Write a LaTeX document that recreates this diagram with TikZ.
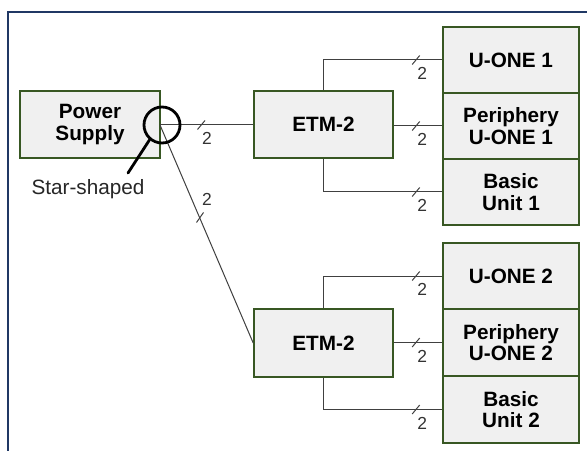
\documentclass[tikz,border=0pt]{standalone}
\usepackage{fontspec}
\setmainfont{Liberation Sans}
\usetikzlibrary{calc}
\definecolor{boxgreen}{RGB}{56,87,35}
\definecolor{boxfill}{RGB}{240,240,240}
\definecolor{framenavy}{RGB}{32,56,100}
\definecolor{wire}{RGB}{64,64,64}
\tikzset{
  unitbox/.style={draw=boxgreen, fill=boxfill, line width=1.6bp, align=center,
    font=\fontsize{20.8}{21.5}\selectfont\bfseries, inner sep=0pt},
  wireline/.style={draw=wire, line width=1bp},
  slashmark/.style={draw=wire, line width=1bp},
  countlabel/.style={font=\fontsize{17.5}{17.5}\selectfont, text=black!80, inner sep=0pt},
  magnifier/.style={draw=black, line width=2.8bp, line cap=round},
}
\begin{document}
\begin{tikzpicture}[x=1bp,y=-1bp]
\useasboundingbox (0,0) rectangle (587,451);
\fill[white] (0,0) rectangle (587,451);
% frame (cropped)
\draw[framenavy, line width=2bp] (8,453) -- (8,12) -- (589,12);

% boxes
\node[unitbox, minimum width=140bp, minimum height=67bp] (ps) at (90,124.5) {Power\\Supply};
\node[unitbox, minimum width=139bp, minimum height=67bp] (etmA) at (323.5,124.5) {ETM-2};
\node[unitbox, minimum width=139bp, minimum height=68bp] (etmB) at (323.5,343) {ETM-2};

\node[unitbox, minimum width=136bp, minimum height=66bp] (u1) at (511,60) {U-ONE 1};
\node[unitbox, minimum width=136bp, minimum height=66bp] (p1) at (511,126) {Periphery\\U-ONE 1};
\node[unitbox, minimum width=136bp, minimum height=66bp] (b1) at (511,192) {Basic\\Unit 1};

\node[unitbox, minimum width=136bp, minimum height=66bp] (u2) at (511,276) {U-ONE 2};
\node[unitbox, minimum width=136bp, minimum height=67bp] (p2) at (511,342.5) {Periphery\\U-ONE 2};
\node[unitbox, minimum width=136bp, minimum height=67bp] (b2) at (511,409.5) {Basic\\Unit 2};

% connectors from power supply
\coordinate (hub) at (160,125);
\draw[wireline] (hub) -- (hub -| etmA.west);
\draw[wireline] (hub) -- (etmB.west);

% connectors from ETM-2 (top)
\draw[wireline] (etmA.north) |- (u1.west);
\draw[wireline] (etmA.east |- p1.west) -- (p1.west);
\draw[wireline] (etmA.south) |- (b1.west);
% connectors from ETM-2 (bottom)
\draw[wireline] (etmB.north) |- (u2.west);
\draw[wireline] (etmB.east |- p2.west) -- (p2.west);
\draw[wireline] (etmB.south) |- (b2.west);

% slash marks and counts
\foreach \t in {u1,p1,b1,u2,p2,b2}{
  \draw[slashmark] ($(\t.west)+(-30,4.5)$) -- ++(7.5,-9);
  \node[countlabel] at ($(\t.west)+(-20,13.5)$) {2};
}
\draw[slashmark] ($(hub)+(37.5,4.5)$) -- ++(7.5,-9);
\node[countlabel] at ($(hub)+(47,13)$) {2};
\draw[slashmark] (196.5,222.5) -- (203.5,212.5);
\node[countlabel] at (207,199) {2};

% star-point magnifier
\node[magnifier, circle, minimum size=36bp, inner sep=0pt] (mag) at (162,125) {};
\draw[magnifier] (mag.230) -- (128,173);
\node[font=\fontsize{20.8}{21.5}\selectfont, text=black!85] (star) at (88,189) {Star-shaped};
\end{tikzpicture}
\end{document}
